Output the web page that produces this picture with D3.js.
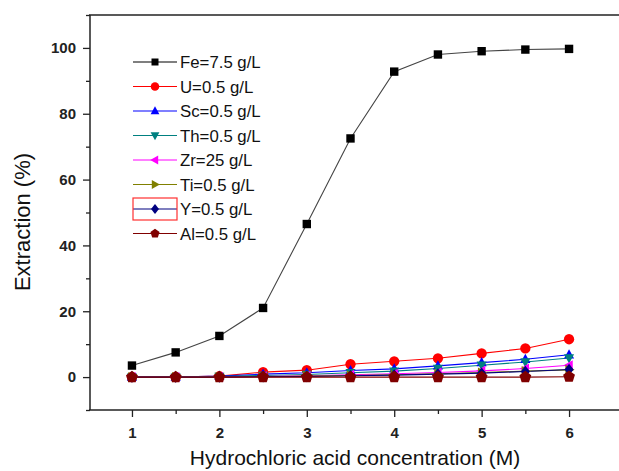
<!DOCTYPE html>
<html><head><meta charset="utf-8">
<script src="https://cdn.jsdelivr.net/npm/d3@7"></script>
<style>body{margin:0;background:#fff}svg{display:block}text{font-family:"Liberation Sans",Arial,sans-serif}</style>
</head><body><svg id="c" width="619" height="471"></svg>
<script>
const xValues = [1,1.5,2,2.5,3,3.5,4,4.5,5,5.5,6];
const seriesNames = ["Fe=7.5 g/L","U=0.5 g/L","Sc=0.5 g/L","Th=0.5 g/L","Zr=25 g/L","Ti=0.5 g/L","Y=0.5 g/L","Al=0.5 g/L"];
const fe = [3.5,7.5,12.5,21,46.5,72.5,92.8,98,99,99.5,99.7];
const u  = [0,0,0.3,1.5,2.1,3.9,4.8,5.7,7.2,8.7,11.5];
const sc = [0,0,0.3,0.9,1.3,2.0,2.5,3.4,4.4,5.4,6.8];
const th = [0,0,0.2,0.5,0.8,1.3,1.8,2.6,3.6,4.6,5.8];
const zr = [0,0,0,0.2,0.4,0.7,1.0,1.4,1.9,2.6,3.6];
const ti = [0,0,0,0.1,0.3,0.5,0.7,1.0,1.4,1.8,2.2];
const yy = [0,0,0,0.1,0.2,0.4,0.6,0.9,1.2,1.7,2.3];
const al = [0,0,0,0,0,0,0,0,0,0,0.1];
const seriesValues = [fe,u,sc,th,zr,ti,yy,al];
const colors = ["#000000","#ff0000","#0000ff","#008080","#ff00ff","#808000","#000080","#800000"];
const shapes = ["square","circle","up","down","left","right","diamond","pentagon"];
const xTicks = [1,2,3,4,5,6];
const yTicks = [0,20,40,60,80,100];

const svg = d3.select("#c");
const x = d3.scaleLinear().domain([0.52,6.64]).range([90,625]);
const y = d3.scaleLinear().domain([-10,110]).range([410,15]);

function shapePath(s, r){
  if(s==="square") return `M${-r},${-r}H${r}V${r}H${-r}Z`;
  if(s==="circle") return d3.symbol(d3.symbolCircle, Math.PI*r*r*1.15)();
  if(s==="up") return `M0,${-r*1.2}L${r*1.1},${r*0.8}L${-r*1.1},${r*0.8}Z`;
  if(s==="down") return `M0,${r*1.2}L${r*1.1},${-r*0.8}L${-r*1.1},${-r*0.8}Z`;
  if(s==="left") return `M${-r*1.2},0L${r*0.8},${-r*1.1}L${r*0.8},${r*1.1}Z`;
  if(s==="right") return `M${r*1.2},0L${-r*0.8},${-r*1.1}L${-r*0.8},${r*1.1}Z`;
  if(s==="diamond") return `M0,${-r*1.25}L${r},0L0,${r*1.25}L${-r},0Z`;
  if(s==="pentagon"){
    const pts=[];for(let i=0;i<5;i++){const a=-Math.PI/2+i*2*Math.PI/5;pts.push([Math.cos(a)*r*1.2,Math.sin(a)*r*1.2]);}
    return "M"+pts.map(p=>p.join(",")).join("L")+"Z";
  }
}
const sizes = [4.2,4.8,4.6,4.6,4.6,4.6,4.6,5.2];

// frame
svg.append("line").attr("x1",89).attr("x2",619).attr("y1",15).attr("y2",15).attr("stroke","#222").attr("stroke-width",1.5);

// axes
const yAxis = d3.axisLeft(y).tickValues(yTicks).tickSize(7).tickPadding(7).tickFormat(d3.format("d"));
const gy = svg.append("g").attr("transform","translate(90,0)").call(yAxis);
const yMinor = d3.axisLeft(y).tickValues([-10,10,30,50,70,90,110]).tickSize(4).tickFormat("");
svg.append("g").attr("transform","translate(90,0)").call(yMinor).select(".domain").remove();
const xAxis = d3.axisBottom(x).tickValues(xTicks).tickSize(7).tickPadding(10).tickFormat(d3.format("d"));
const gx = svg.append("g").attr("transform","translate(0,410)").call(xAxis);
const xMinor = d3.axisBottom(x).tickValues([1.5,2.5,3.5,4.5,5.5]).tickSize(4).tickFormat("");
svg.append("g").attr("transform","translate(0,410)").call(xMinor).select(".domain").remove();
svg.selectAll(".domain").attr("stroke","#222").attr("stroke-width",1.5);
svg.selectAll(".tick line").attr("stroke","#222").attr("stroke-width",1.3);
svg.selectAll(".tick text").attr("font-size",15).attr("font-weight","bold").attr("fill","#222").attr("font-family","'Liberation Sans',Arial,sans-serif");
gy.select(".domain").attr("d","M0,15V410");
gx.select(".domain").attr("d","M89,0H619");

// titles
svg.append("text").attr("transform","translate(30,222) rotate(-90)").attr("text-anchor","middle")
  .attr("font-size",22).attr("fill","#111").text("Extraction (%)");
svg.append("text").attr("x",355).attr("y",465).attr("text-anchor","middle")
  .attr("font-size",21).attr("fill","#111").text("Hydrochloric acid concentration (M)");

// series
const line = d3.line().x((d,i)=>x(xValues[i])).y(d=>y(d));
seriesValues.forEach((vals,k)=>{
  svg.append("path").attr("d",line(vals)).attr("fill","none")
    .attr("stroke", k===0?"#444":colors[k]).attr("stroke-width",1.1);
});
seriesValues.forEach((vals,k)=>{
  svg.append("g").selectAll("path").data(vals).join("path")
    .attr("transform",(d,i)=>`translate(${x(xValues[i])},${y(d)})`)
    .attr("d",shapePath(shapes[k],sizes[k])).attr("fill",colors[k]);
});

// legend
const lg = svg.append("g");
seriesNames.forEach((n,k)=>{
  const cy = 62 + k*24.5;
  lg.append("line").attr("x1",133).attr("x2",177).attr("y1",cy).attr("y2",cy).attr("stroke",colors[k]).attr("stroke-width",1.2);
  lg.append("path").attr("transform",`translate(155,${cy})`).attr("d",shapePath(shapes[k],k===0?3.5:4)).attr("fill",colors[k]);
  lg.append("text").attr("x",180).attr("y",cy+6).attr("font-size",16.8).attr("fill","#111").text(n);
});
lg.append("rect").attr("x",133).attr("y",62+6*24.5-11).attr("width",44).attr("height",22)
  .attr("fill","none").attr("stroke","#ff3030").attr("stroke-width",1.2);
</script></body></html>
